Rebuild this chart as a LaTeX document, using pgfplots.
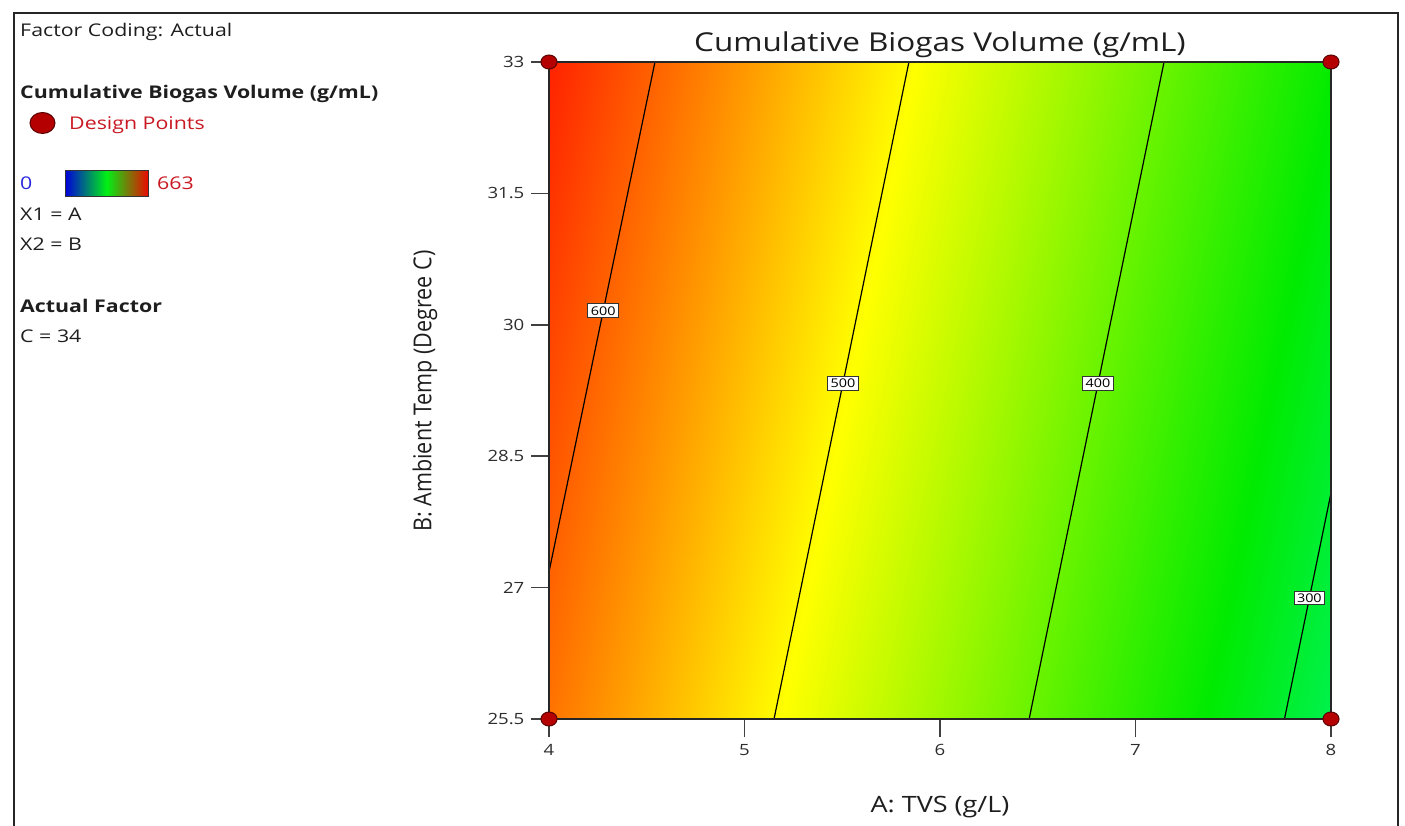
\documentclass[border=0pt]{standalone}
\usepackage{pgfplots}
\pgfplotsset{compat=1.18}
\usepackage{fontspec}
\setmainfont{Open Sans}
\definecolor{dpred}{RGB}{180,0,0}
\definecolor{dpedge}{RGB}{90,0,0}
\definecolor{txt}{RGB}{30,30,30}
\definecolor{ticktxt}{RGB}{45,45,45}
\definecolor{lgred}{RGB}{200,25,35}
\definecolor{lgblue}{RGB}{40,40,220}
\definecolor{cbblue}{RGB}{0,0,220}
\definecolor{cbgreen}{RGB}{0,240,20}
\definecolor{cbred}{RGB}{235,10,0}
\tikzset{clbl/.style={draw=black!80, line width=1pt, fill=white, inner xsep=2.5pt, inner ysep=2.5pt, xscale=1.2, font=\fontsize{12}{13}\selectfont}}
\pgfplotstableread{
a b v
4 25.5 588.2
5 25.5 511.6
6 25.5 435.0
7 25.5 358.4
8 25.5 281.8
4 27 598.7
5 27 522.2
6 27 445.6
7 27 369.0
8 27 292.4
4 28.5 609.3
5 28.5 532.7
6 28.5 456.1
7 28.5 379.5
8 28.5 302.9
4 30 619.9
5 30 543.3
6 30 466.7
7 30 390.1
8 30 313.5
4 31.5 630.5
5 31.5 553.9
6 31.5 477.3
7 31.5 400.7
8 31.5 324.1
4 33 641.0
5 33 564.4
6 33 487.9
7 33 411.2
8 33 334.6
}\surfdata
\begin{document}
\begin{tikzpicture}[x=1pt,y=1pt]
\path[use as bounding box] (0,0) rectangle (1405,825);
% outer frame
\draw[line width=2pt, black!85] (14,-5) -- (14,812) -- (1398,812) -- (1398,-5);
% left info panel
\begin{scope}[every node/.style={inner sep=0pt, anchor=base west, text=txt, xscale=1.22}]
\node at (20,825-36.5) {\fontsize{17.5}{20}\selectfont Factor Coding: Actual};
\node at (20,825-99) {\fontsize{17.5}{20}\selectfont\bfseries Cumulative Biogas Volume (g/mL)};
\node[text=lgred] at (69,825-130) {\fontsize{17.5}{20}\selectfont Design Points};
\node[text=lgblue] at (20,825-190) {\fontsize{17.5}{20}\selectfont 0};
\node[text=lgred] at (157,825-190) {\fontsize{17.5}{20}\selectfont 663};
\node at (20,825-221) {\fontsize{17.5}{20}\selectfont X1 = A};
\node at (20,825-251) {\fontsize{17.5}{20}\selectfont X2 = B};
\node at (20,825-313) {\fontsize{17.5}{20}\selectfont\bfseries Actual Factor};
\node at (20,825-343) {\fontsize{17.5}{20}\selectfont C = 34};
\end{scope}
\filldraw[fill=dpred, draw=dpedge, line width=1pt] (42.5,825-123) ellipse [x radius=12.5, y radius=10.5];
\shade[left color=cbblue, right color=cbred, middle color=cbgreen] (65,825-197) rectangle (148,825-171);
\draw[line width=1pt, black!80] (65,825-197) rectangle (148,825-171);
% axis
\begin{axis}[
  at={(549pt,106pt)}, anchor=south west,
  scale only axis, width=782pt, height=657pt,
  xmin=4, xmax=8, ymin=25.5, ymax=33,
  axis on top, clip=false,
  axis line style={line width=1.5pt, black!85},
  xtick={4,5,6,7,8},
  ytick={25.5,27,28.5,30,31.5,33},
  yticklabels={25.5,27,28.5,30,31.5,33},
  xticklabels={4,5,6,7,8},
  tick align=outside, major tick length=18pt,
  xtick pos=bottom, ytick pos=left,
  tick style={line width=1.5pt, black!75},
  /pgf/number format/assume math mode=true,
  tick label style={font=\fontsize{15.5}{18}\selectfont, text=ticktxt, xscale=1.2},
  xticklabel style={yshift=-4pt},
  yticklabel style={xshift=-2pt},
  colormap={hue}{rgb255(0cm)=(0,0,255); rgb255(1cm)=(0,255,255); rgb255(2cm)=(0,235,0); rgb255(3cm)=(255,255,0); rgb255(4cm)=(255,0,0)},
  point meta min=0, point meta max=663,
]
\addplot[surf, shader=interp, mesh/cols=5, point meta=explicit] table[x=a, y=b, meta=v] {\surfdata};
\addplot[line width=1.2pt, black] coordinates {(4,27.18) (4.542,33)}
  node[pos=0.512, clbl] {600};
\addplot[line width=1.2pt, black] coordinates {(5.151,25.5) (5.841,33)}
  node[pos=0.511, clbl] {500};
\addplot[line width=1.2pt, black] coordinates {(6.456,25.5) (7.146,33)}
  node[pos=0.511, clbl] {400};
\addplot[line width=1.2pt, black] coordinates {(7.762,25.5) (8,28.08)}
  node[pos=0.535, clbl] {300};
\addplot[only marks, mark=*, mark size=7pt, mark options={xscale=1.15, fill=dpred, draw=dpedge, line width=1pt}] coordinates {(4,25.5) (4,33) (8,25.5) (8,33)};
\end{axis}
% titles
\node[anchor=base, inner sep=0pt, text=txt, xscale=1.21] at (940,825-52) {\fontsize{26}{30}\selectfont Cumulative Biogas Volume (g/mL)};
\node[anchor=base, inner sep=0pt, text=txt, xscale=1.2] at (940,825-812) {\fontsize{22.5}{26}\selectfont A: TVS (g/L)};
\node[rotate=90, yscale=1.15, inner sep=0pt, text=txt] at (425,825-391) {\fontsize{21.5}{26}\selectfont B: Ambient Temp (Degree C)};
\end{tikzpicture}
\end{document}
